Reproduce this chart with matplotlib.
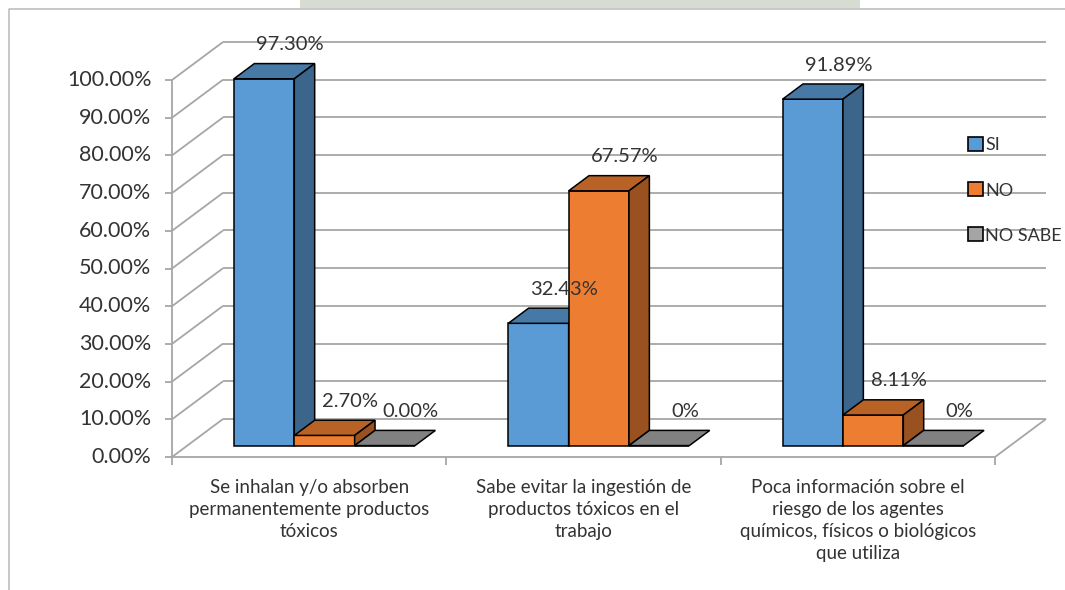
import matplotlib.pyplot as plt
from matplotlib.patches import Polygon, Patch, Rectangle
from matplotlib.colors import to_rgb

plt.rcParams['font.family'] = ['Lato', 'DejaVu Sans']

categories = [
    "Se inhalan y/o absorben\npermanentemente productos\ntóxicos",
    "Sabe evitar la ingestión de\nproductos tóxicos en el\ntrabajo",
    "Poca información sobre el\nriesgo de los agentes\nquímicos, físicos o biológicos\nque utiliza",
]
series = ["SI", "NO", "NO SABE"]
si_vals = [97.30, 32.43, 91.89]
no_vals = [2.70, 67.57, 8.11]
nosabe_vals = [0.00, 0, 0]
si_labels = ["97.30%", "32.43%", "91.89%"]
no_labels = ["2.70%", "67.57%", "8.11%"]
nosabe_labels = ["0.00%", "0%", "0%"]
yticks = [0, 10, 20, 30, 40, 50, 60, 70, 80, 90, 100]

colors = ["#5B9BD5", "#ED7D31", "#A5A5A5"]
text_col = "#333333"
grid_col = "#A6A6A6"


def shade(c, f):
    r, g, b = to_rgb(c)
    return (r * f, g * f, b * f)


W, H = 1065, 590
fig = plt.figure(figsize=(W / 100, H / 100), dpi=100)
ax = fig.add_axes([0, 0, 1, 1])

# pixel layout of the front floor corner and scale
ox_px, oy_px = 172, 457
ux = (995 - ox_px) / 3.0       # px per category
uy = (457 - 80) / 100.0        # px per percent
ax.set_xlim(-ox_px / ux, (W - ox_px) / ux)
ax.set_ylim(-(H - oy_px) / uy, oy_px / uy)
ax.axis("off")

# depth of the 3D box
DX = 51 / ux
DY = 38 / uy
d0, d1 = 0.3, 0.7
bar_w = 0.22
ncat = len(categories)

gkw = dict(color=grid_col, lw=1.3, zorder=1, solid_capstyle="butt")
# back wall + left wall gridlines
for v in yticks:
    ax.plot([DX, ncat + DX], [v + DY, v + DY], **gkw)
    ax.plot([0, DX], [v, v + DY], **gkw)
    ax.plot([-0.025, 0], [v, v], **gkw)
# front axis and floor
ax.plot([0, 0], [0, 100], **gkw)
ax.plot([0, ncat, ncat + DX], [0, 0, DY], **gkw)
for i in range(ncat + 1):
    ax.plot([i, i], [0, -2.0], **gkw)

for v in yticks:
    ax.text(-0.075, v, f"{v:.2f}%", ha="right", va="center",
            fontsize=15.5, color=text_col)

for i, lab in enumerate(categories):
    ax.text(i + 0.5, -5.8, lab, ha="center", va="top", fontsize=13.5,
            color=text_col, linespacing=1.36)


def draw_bar(x0, h, c):
    fx, fy = x0 + d0 * DX, d0 * DY
    dx, dy = (d1 - d0) * DX, (d1 - d0) * DY
    kw = dict(ec="black", lw=1.1, joinstyle="miter", zorder=3)
    ax.add_patch(Polygon([(fx, fy), (fx + bar_w, fy), (fx + bar_w, fy + h),
                          (fx, fy + h)], fc=c, **kw))
    ax.add_patch(Polygon([(fx, fy + h), (fx + bar_w, fy + h),
                          (fx + bar_w + dx, fy + h + dy), (fx + dx, fy + h + dy)],
                         fc=shade(c, 0.78), **kw))
    if h > 0:
        ax.add_patch(Polygon([(fx + bar_w, fy), (fx + bar_w + dx, fy + dy),
                              (fx + bar_w + dx, fy + h + dy), (fx + bar_w, fy + h)],
                             fc=shade(c, 0.65), **kw))


values = [si_vals, no_vals, nosabe_vals]
labels = [si_labels, no_labels, nosabe_labels]
for i in range(ncat):
    start = i + 0.5 - 1.5 * bar_w
    for s in range(len(series)):
        x0 = start + s * bar_w
        h = values[s][i]
        draw_bar(x0, h, colors[s])
        lx = x0 + bar_w / 2 + d1 * DX + 0.02
        ly = h + d1 * DY + 5.0
        ax.text(lx, ly, labels[s][i], ha="center", va="center",
                fontsize=14.5, color=text_col, zorder=4)

handles = [Patch(fc=c, ec="black", lw=1.2) for c in colors]
ax.legend(handles, series, loc="upper left",
          bbox_to_anchor=(952 / W, 1 - 121 / H), frameon=False,
          fontsize=13, handlelength=0.8, handleheight=0.8,
          handletextpad=0.15, labelspacing=1.6, labelcolor=text_col)

# outer chart frame and the strip above it
ax.plot([9 / W, 9 / W, 1], [0, 1 - 9 / H, 1 - 9 / H], color="#BFBFBF",
        lw=1.2, transform=ax.transAxes, clip_on=False)
ax.add_patch(Rectangle((300 / W, 1 - 8 / H), 560 / W, 8 / H,
                       transform=ax.transAxes, fc="#D6DCD2", ec="none"))

fig.savefig("out.png", dpi=100)
